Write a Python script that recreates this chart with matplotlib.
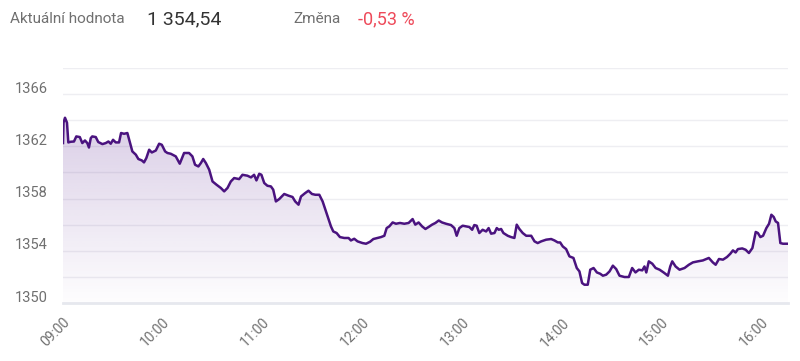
import numpy as np
import matplotlib
matplotlib.use("Agg")
import matplotlib.pyplot as plt
from matplotlib.patches import PathPatch
from matplotlib.transforms import ScaledTranslation

plt.rcParams['font.family'] = ['Roboto', 'DejaVu Sans']

# minutes after 09:00 and index value
minutes = [0.0, 0.3, 1.2, 2.4, 3.2, 4.6, 6.6, 8.0, 10.1, 11.6, 13.2, 14.6, 15.6, 16.7, 17.6,
           19.7, 21.2, 23.7, 25.7, 27.3, 28.7, 30.1, 31.7, 33.7, 34.9, 36.7, 38.7, 40.1, 41.7,
           43.8, 45.3, 47.4, 48.7, 50.1, 51.8, 53.4, 55.8, 57.8, 59.4, 61.4, 62.8, 64.8, 67.8,
           70.2, 72.8, 75.8, 77.8, 79.4, 81.4, 82.9, 84.3, 85.9, 87.9, 89.9, 92.3, 94.9, 96.9,
           98.9, 100.9, 102.9, 105.9, 107.9, 110.9, 113.0, 114.9, 116.3, 118.0, 119.3, 121.0,
           122.9, 125.0, 126.4, 128.0, 130.0, 133.0, 135.6, 138.0, 139.6, 141.6, 143.1, 145.6,
           147.6, 149.7, 151.7, 154.1, 156.1, 158.1, 159.7, 161.1, 162.5, 164.5, 166.5, 169.1,
           171.7, 173.1, 175.1, 177.1, 180.1, 182.2, 184.6, 186.6, 189.1, 191.2, 193.2, 194.6,
           196.2, 198.2, 200.2, 202.6, 205.2, 207.8, 210.2, 211.8, 213.8, 215.9, 217.9, 219.8,
           221.9, 223.9, 225.9, 227.9, 230.3, 233.3, 235.3, 236.7, 238.3, 240.3, 242.3, 244.3,
           246.0, 247.3, 248.7, 250.3, 252.3, 254.4, 255.9, 257.4, 259.4, 260.8, 262.0, 263.4,
           264.8, 267.4, 269.4, 271.4, 272.8, 274.4, 276.4, 278.5, 281.5, 283.5, 285.4, 287.5,
           290.5, 293.5, 295.5, 297.5, 298.9, 300.5, 302.5, 304.5, 306.9, 308.9, 310.5, 312.1,
           313.5, 315.5, 317.0, 319.0, 321.0, 323.0, 324.6, 326.6, 328.6, 330.6, 332.6, 334.6,
           337.6, 340.2, 342.2, 344.2, 346.2, 348.3, 349.6, 350.7, 352.2, 354.3, 356.3, 358.7,
           361.1, 363.7, 365.1, 366.3, 368.3, 370.7, 373.7, 376.3, 378.7, 381.7, 384.7, 388.3,
           390.7, 392.4, 394.4, 396.8, 399.2, 401.2, 402.8, 404.4, 405.8, 408.4, 410.4, 412.4,
           414.5, 416.5, 417.8, 419.3, 420.9, 422.9, 424.5, 425.9, 427.3, 428.5, 429.9, 431.3,
           432.9, 435.9]
values = [1362.25, 1363.81, 1364.19, 1363.81, 1362.30, 1362.35, 1362.37, 1362.76, 1362.71,
          1362.25, 1362.45, 1362.25, 1361.91, 1362.63, 1362.76, 1362.71, 1362.33, 1362.17,
          1362.25, 1362.37, 1362.20, 1362.50, 1362.30, 1362.30, 1363.02, 1362.96, 1363.02,
          1362.37, 1361.61, 1361.36, 1361.03, 1360.92, 1360.77, 1361.10, 1361.74, 1361.53,
          1361.68, 1362.20, 1362.12, 1361.61, 1361.49, 1361.43, 1361.23, 1360.67, 1361.49,
          1361.49, 1361.23, 1360.59, 1360.46, 1360.72, 1361.03, 1360.72, 1360.21, 1359.31,
          1359.06, 1358.81, 1358.55, 1358.81, 1359.31, 1359.57, 1359.49, 1359.82, 1359.75,
          1359.62, 1359.82, 1359.39, 1359.90, 1359.82, 1359.19, 1358.98, 1358.93, 1358.68,
          1357.78, 1357.96, 1358.35, 1358.22, 1358.12, 1357.78, 1357.53, 1358.16, 1358.42,
          1358.60, 1358.35, 1358.29, 1358.29, 1357.78, 1357.01, 1356.38, 1355.87, 1355.48,
          1355.36, 1355.05, 1354.98, 1354.98, 1354.79, 1354.92, 1354.72, 1354.59, 1354.54,
          1354.69, 1354.90, 1354.98, 1355.05, 1355.15, 1355.74, 1355.87, 1356.17, 1356.07,
          1356.13, 1356.07, 1356.13, 1356.43, 1356.00, 1356.17, 1355.87, 1355.67, 1355.82,
          1356.00, 1356.13, 1356.32, 1356.17, 1356.07, 1355.97, 1355.74, 1355.15, 1355.74,
          1355.92, 1355.87, 1355.82, 1355.61, 1355.97, 1355.92, 1355.36, 1355.61, 1355.48,
          1355.74, 1355.31, 1355.36, 1355.74, 1355.61, 1355.67, 1355.36, 1355.15, 1355.05,
          1354.98, 1356.00, 1355.67, 1355.36, 1355.15, 1355.15, 1354.72, 1354.59, 1354.72,
          1354.85, 1354.90, 1354.79, 1354.64, 1354.64, 1354.33, 1354.13, 1353.57, 1353.45,
          1352.68, 1352.42, 1351.53, 1351.40, 1351.40, 1352.55, 1352.68, 1352.34, 1352.24,
          1352.09, 1352.17, 1352.42, 1352.86, 1352.60, 1352.09, 1351.99, 1351.99, 1352.68,
          1352.34, 1352.55, 1352.50, 1352.80, 1352.34, 1353.19, 1353.01, 1352.68, 1352.55,
          1352.34, 1352.09, 1352.80, 1353.19, 1352.80, 1352.55, 1352.68, 1352.93, 1353.11,
          1353.19, 1353.26, 1353.45, 1353.11, 1352.93, 1353.37, 1353.32, 1353.52, 1353.77,
          1354.03, 1353.87, 1354.13, 1354.18, 1354.08, 1353.83, 1354.21, 1355.44, 1355.36,
          1355.05, 1355.15, 1355.74, 1356.07, 1356.76, 1356.59, 1356.25, 1356.13, 1354.59,
          1354.54, 1354.54]

hour_ticks = [0, 60, 120, 180, 240, 300, 360, 420]
hour_labels = ['09:00', '10:00', '11:00', '12:00', '13:00', '14:00', '15:00', '16:00']
y_labels = [1350, 1354, 1358, 1362, 1366]

line_col = '#4a137f'
grid_col = '#eeeef2'
text_gray = '#707070'

fig = plt.figure(figsize=(8, 3.61), dpi=100)
ax = fig.add_axes([63 / 800, 1 - 303 / 361, (788 - 63) / 800, (303 - 68) / 361])

x = np.array(minutes)
y = np.array(values)
ymin, ymax = 1350, 1368

# gradient fill under the line
poly = ax.fill_between(x, y, ymin, color='none', lw=0)
clip = PathPatch(poly.get_paths()[0], transform=ax.transData, facecolor='none', edgecolor='none')
ax.add_patch(clip)
grad = np.zeros((256, 1, 4))
grad[:, 0, 0:3] = matplotlib.colors.to_rgb('#6a3a9c')
grad[:, 0, 3] = np.linspace(0.01, 0.25, 256)
img = ax.imshow(grad, extent=[x[0], x[-1], ymin, y.max()], origin='lower',
                aspect='auto', zorder=1, interpolation='bilinear')
img.set_clip_path(clip)

ax.plot(x, y, color=line_col, lw=1.8, zorder=3, solid_joinstyle='round')

ax.set_xlim(x[0], x[-1])
ax.set_ylim(ymin, ymax)

ax.set_yticks(y_labels)
ax.set_yticks(np.arange(1352, 1369, 4), minor=True)
ax.grid(True, axis='y', which='both', color=grid_col, lw=1, zorder=0)
ax.set_axisbelow(True)
ax.tick_params(axis='y', which='both', length=0, pad=11, labelsize=10.5, labelcolor=text_gray)
for lab in ax.get_yticklabels():
    lab.set_transform(lab.get_transform() + ScaledTranslation(0, 0.07, fig.dpi_scale_trans))

ax.set_xticks(hour_ticks)
ax.set_xticklabels(hour_labels, rotation=45, ha='right', va='top', rotation_mode='anchor')
ax.tick_params(axis='x', length=0, pad=9, labelsize=10, labelcolor=text_gray)

for s in ['top', 'right', 'left']:
    ax.spines[s].set_visible(False)
ax.spines['bottom'].set_color('#e6e8ee')
ax.spines['bottom'].set_linewidth(2)

# header
fig.text(10 / 800, 1 - 19 / 361, 'Aktuální hodnota', fontsize=11, color=text_gray, va='center')
fig.text(147 / 800, 1 - 19 / 361, '1 354,54', fontsize=14, color='#333333', va='center')
fig.text(293 / 800, 1 - 19 / 361, 'Změna', fontsize=11, color=text_gray, va='center')
fig.text(358 / 800, 1 - 19 / 361, '-0,53 %', fontsize=13, color='#ee4a5a', va='center')

fig.savefig('out.png', dpi=100)
